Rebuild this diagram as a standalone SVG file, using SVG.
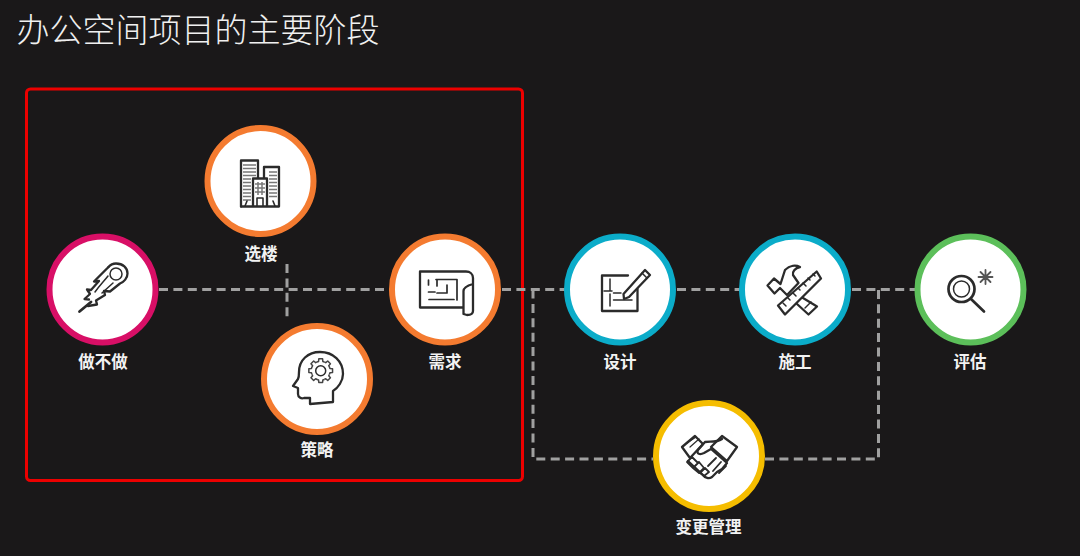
<svg xmlns="http://www.w3.org/2000/svg" width="1080" height="556" viewBox="0 0 1080 556">
<defs>
<path id="gt" d="M-3.640 -8.780L-2.140 -9.260L-1.900 -11.850H1.900L2.140 -9.260L3.640 -8.780"/>
</defs>
<style>
text{font-family:"Noto Sans CJK SC","Noto Sans",sans-serif}
.title{font-size:33px;fill:#f0f0f0;font-weight:300}
.lab{font-size:16.500px;font-weight:700;fill:#f2f2f2;text-anchor:middle}
.disc{fill:#fff;stroke-width:6}
.i{fill:none;stroke:#2b2b2b;stroke-width:2.300;stroke-linejoin:round;stroke-linecap:round}
.t{fill:none;stroke:#777;stroke-width:1.500}
.c{fill:none;stroke:#a0a0a0;stroke-width:3;stroke-dasharray:9 5.400}
</style>
<rect width="1080" height="556" fill="#1a1819"/>
<text class="title" x="16.500" y="42">办公空间项目的主要阶段</text>
<rect x="26.500" y="89" width="496" height="391.500" rx="4" fill="none" stroke="#ec0000" stroke-width="3"/>
<g id="connectors">
<path class="c" d="M159 289.500H390"/>
<path class="c" d="M287 264V317"/>
<path class="c" d="M502 289.500H565"/>
<path class="c" d="M677 289.500H740"/>
<path class="c" d="M852 289.500H915"/>
<path class="c" d="M533 289.500V459H653"/>
<path class="c" d="M765 459H878.500V289.500"/>
</g>
<g id="node-zuobuzuo">
<circle class="disc" cx="102.500" cy="289.500" r="53" stroke="#d80f66"/>
<g class="i">
<circle cx="116" cy="274" r="6" stroke-width="1.500"/>
<path d="M108.500 267C111 264 113 263.500 116 263.500C123 263.500 127.500 268 127.500 273.500C127.500 278 124 282 120 283.500L110 291.500L104 291L105 295L96 300.500L97 304.500L88 306"/>
<path d="M108.500 267L94 281.500L99 281L91 290L87 289.500L90 294L84.500 299L89 299.500"/>
<path d="M79.500 311.500L91 302" stroke-width="2.800"/>
<path d="M108 276C105 280 100 285 95 292M113 283L102 293" stroke-width="1.500"/>
</g>
<text class="lab" x="103" y="368">做不做</text>
</g>
<g id="node-xuanlou">
<circle class="disc" cx="260.500" cy="181" r="53" stroke="#f47b30"/>
<path class="t" d="M243 165H256M243 168.500H256M243 172H256M243 175.500H256M243 179H251M243 182.500H251M243 186H251M243 189.500H251M243 193H251M243 196.500H251M243 200H251M269 172H277M269 175.500H277M269 179H277M269 182.500H277M269 186H277M269 189.500H277M269 193H277M269 196.500H277M255 184H265M255 188H265M255 192H265M258 182V195M262 182V195"/>
<g class="i">
<path d="M241 206.500V160.500H258V178"/>
<path d="M264 178V167H279V206.500H241"/>
<path d="M253 206V178.500H267V206"/>
<path d="M257 206V198H263V206M245 206L247 201M275 206L273 201" stroke-width="1.600"/>
</g>
<text class="lab" x="261" y="260">选楼</text>
</g>
<g id="node-celue">
<circle class="disc" cx="317" cy="379" r="53" stroke="#f47b30"/>
<g class="i">
<path d="M310 404L333 402V391C338 388 343 381 343 374C343 361 333 352 320 352C308 352 299 360 299 372C299 375 299 377 298 379L293 386L298 388V394C298 397 301 399 304 398L310 398Z"/>
<circle cx="320.700" cy="370.700" r="5" stroke-width="1.500"/>
</g>
<g transform="translate(320.700 370.700)" fill="none" stroke="#444" stroke-width="1.500" stroke-linejoin="round">
<use href="#gt"/><use href="#gt" transform="rotate(45)"/><use href="#gt" transform="rotate(90)"/><use href="#gt" transform="rotate(135)"/><use href="#gt" transform="rotate(180)"/><use href="#gt" transform="rotate(225)"/><use href="#gt" transform="rotate(270)"/><use href="#gt" transform="rotate(315)"/>
</g>
<text class="lab" x="317" y="456">策略</text>
</g>
<g id="node-xuqiu">
<circle class="disc" cx="445" cy="289.500" r="53" stroke="#f47b30"/>
<g class="i">
<path d="M463.500 307.500H420V271.500H466C470 271.500 473 274 473 278V311C473 314 470 315 467 315L463.500 314V291C463.500 288 466 286 473 284"/>
<path d="M428.500 280V285M428.500 292H435M436 279.500H457V300M437 279.500V286M437 293H447V285M429 299.500H454" stroke-width="1.700"/>
</g>
<text class="lab" x="445" y="368">需求</text>
</g>
<g id="node-sheji">
<circle class="disc" cx="620" cy="289.500" r="53" stroke="#0bacc9"/>
<g class="i">
<path d="M628 275.500H602V311H637.500V289"/>
<path d="M623.500 294L624 299L629 297L650 275L645 270Z"/>
<path d="M642 273L647 278" stroke-width="1.500"/>
<path d="M610 279V290M610 294V306M613.500 300H632M613.500 293H621M604 291H612" stroke-width="1.500"/>
</g>
<text class="lab" x="620" y="368">设计</text>
</g>
<g id="node-shigong">
<circle class="disc" cx="795" cy="289.500" r="53" stroke="#0bacc9"/>
<g class="i">
<path d="M816.700 271.500L821 278.500L785 314.500L778 305.500Z"/>
<path d="M783 303L786 306M788 298L790 300M793 293L796 296M798 288L800 290M803 283L806 286M808 278L810 280M813 274L815 276" stroke-width="1.500"/>
<path d="M767.500 285.500L774 278.500L780.500 284L785 270C790 265 796 265 800 267C795 268 792 272 793 275L798.500 283L787 295L780 288L774.500 293.500Z"/>
<path d="M803 298L817 306.500L808.500 314.500L797 304"/>
<path d="M805 308L811 302" stroke-width="1.500"/>
</g>
<text class="lab" x="795" y="368">施工</text>
</g>
<g id="node-pinggu">
<circle class="disc" cx="970.500" cy="289.500" r="53" stroke="#5cbf5a"/>
<g class="i">
<circle cx="961.500" cy="289" r="13" stroke-width="2.700"/>
<circle cx="961.500" cy="289" r="8" stroke-width="1.500"/>
<path d="M971 299L984 311.500" stroke-width="2.700"/>
<path d="M985.500 270V284M978.500 277H992.500M980.500 272L990.500 282M990.500 272L980.500 282" stroke-width="1.800" stroke="#555"/>
</g>
<text class="lab" x="970" y="368">评估</text>
</g>
<g id="node-biangeng">
<circle class="disc" cx="709" cy="456" r="53" stroke="#f5bd00"/>
<g class="i">
<path d="M682 447L695 436L703 444L690 458Z"/>
<path d="M737 447L722 436L711 447L727 461Z"/>
<path d="M722 439C716 443 710 441 705 442L698 450C696 454 700 455 704 453L711 449L727 463L722 469L717 472L712 477C709 479 705 478 703 475L688 461"/>
<path d="M687 462L692 457L698 463L693 468ZM693 468L699 462L704 468L699 473ZM700 473L705 468L709 472L704 476Z" stroke-width="1.800"/>
<path d="M716 458L708 466M721 462L713 471M726 466L719 473" stroke-width="1.800"/>
<path d="M687 443L696 437M690 447L699 439" stroke-width="1.200"/>
</g>
<text class="lab" x="708.500" y="533">变更管理</text>
</g>
</svg>
